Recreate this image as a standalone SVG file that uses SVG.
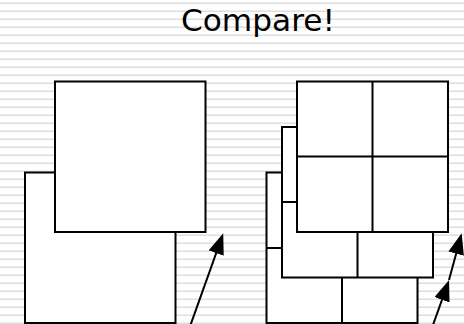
<svg xmlns="http://www.w3.org/2000/svg" width="464" height="324" viewBox="0 0 464 324">
<defs>
<pattern id="stripes" x="0" y="0" width="8" height="8" patternUnits="userSpaceOnUse">
<rect x="0" y="2.5" width="8" height="1.5" fill="#dedede"/>
</pattern>
<marker id="ah" markerUnits="userSpaceOnUse" markerWidth="21" markerHeight="16" viewBox="0 0 21 16" refX="17" refY="8" orient="auto">
<path d="M0,0 L21,8 L0,16 z" fill="#000"/>
</marker>
</defs>
<style>
.box{fill:#fff;stroke:#000;stroke-width:2}
.div{fill:none;stroke:#000;stroke-width:2}
.arrow{fill:none;stroke:#000;stroke-width:2;marker-end:url(#ah)}
.title{font-family:"DejaVu Sans",Verdana,sans-serif;font-size:30.5px;fill:#000}
</style>
<rect width="464" height="324" fill="#fff"/>
<rect width="464" height="324" fill="url(#stripes)"/>
<text class="title" x="258" y="31" text-anchor="middle" textLength="154" lengthAdjust="spacingAndGlyphs">Compare!</text>
<g id="left-back"><rect class="box" x="25" y="172.5" width="150.5" height="150.5"/></g>
<g id="left-front"><rect class="box" x="55" y="81.5" width="150.5" height="150.5"/></g>
<g id="right-layer1">
<rect class="box" x="266.5" y="172.5" width="151" height="150.5"/>
<path class="div" d="M342,172.5 V323 M266.5,248 H417.5"/>
</g>
<g id="right-layer2">
<rect class="box" x="282" y="127" width="151" height="150.5"/>
<path class="div" d="M357.5,127 V277.5 M282,202 H433"/>
</g>
<g id="right-layer3">
<rect class="box" x="297" y="81.5" width="151" height="150.5"/>
<path class="div" d="M372.5,81.5 V232 M297,156.5 H448"/>
</g>
<g id="connectors">
<line class="arrow" x1="190.5" y1="325" x2="221.9" y2="237.1"/>
<line class="arrow" x1="433" y1="325" x2="447.7" y2="283.8"/>
<line class="arrow" x1="449" y1="280" x2="460.6" y2="237.2"/>
</g>
</svg>
